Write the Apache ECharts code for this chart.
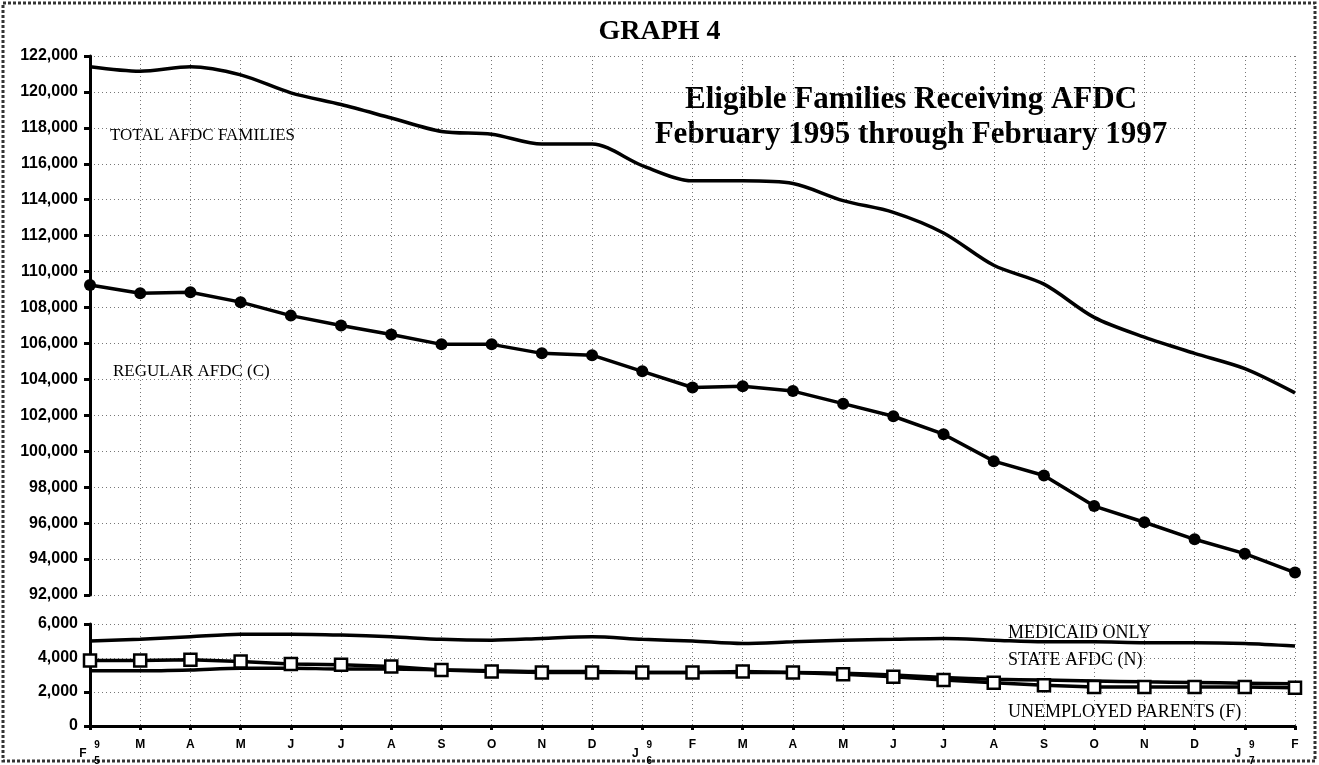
<!DOCTYPE html>
<html>
<head>
<meta charset="utf-8">
<script src="https://cdn.jsdelivr.net/npm/echarts@6/dist/echarts.min.js"></script>
<style>
  html, body { margin: 0; padding: 0; background: #fff; }
  #chart { width: 1319px; height: 765px; }
</style>
</head>
<body>
<div id="chart"></div>
<script>
// month initials, Feb 1995 .. Feb 1997
const months = ['F', 'M', 'A', 'M', 'J', 'J', 'A', 'S', 'O', 'N', 'D', 'J', 'F', 'M', 'A', 'M', 'J', 'J', 'A', 'S', 'O', 'N', 'D', 'J', 'F']
// year digits stacked beside the month letter
const yearMarks = [
  { index: 0, digits: ['9', '5'] },
  { index: 11, digits: ['9', '6'] },
  { index: 23, digits: ['9', '7'] },
]

const upperTicks = { min: 92000, max: 122000, interval: 2000 }
const lowerTicks = { min: 0, max: 6000, interval: 2000 }

const totalAfdc = [121400, 121150, 121400, 120950, 119950, 119300, 118550, 117800, 117650, 117100, 117100, 115900, 115050, 115050, 114900, 113950, 113300, 112150, 110350, 109300, 107450, 106350, 105450, 104600, 103250]
const regularAfdc = [109250, 108800, 108850, 108300, 107550, 107000, 106500, 105950, 105950, 105450, 105350, 104450, 103550, 103620, 103350, 102650, 101950, 100950, 99450, 98650, 96950, 96050, 95100, 94300, 93250]
const medicaidOnly = [5000, 5100, 5250, 5400, 5400, 5350, 5250, 5100, 5050, 5150, 5250, 5100, 5000, 4850, 4950, 5050, 5100, 5150, 5050, 4950, 4950, 4900, 4900, 4850, 4700]
const stateAfdc = [3250, 3250, 3300, 3400, 3400, 3350, 3350, 3300, 3250, 3200, 3200, 3150, 3150, 3150, 3150, 3100, 3000, 2850, 2750, 2700, 2650, 2600, 2560, 2520, 2480]
const unemployedParents = [3850, 3850, 3900, 3800, 3650, 3600, 3500, 3300, 3200, 3150, 3150, 3150, 3150, 3200, 3150, 3050, 2900, 2700, 2550, 2400, 2300, 2300, 2300, 2300, 2250]

const sans = '"Liberation Sans", Arial, sans-serif'
const serif = '"Liberation Serif", "Times New Roman", serif'
const gridDots = { color: '#777', width: 1, type: [1, 3] }
const yearIdx = yearMarks.map((m) => m.index)

const chart = echarts.init(document.getElementById('chart'))

const yAxisBase = {
  type: 'value',
  axisLine: { show: true, lineStyle: { color: '#000', width: 3 } },
  axisTick: { show: true, length: 6, lineStyle: { color: '#000', width: 3 } },
  axisLabel: {
    color: '#000',
    fontFamily: sans,
    fontWeight: 'bold',
    fontSize: 16,
    margin: 12,
    formatter: (v) => v.toLocaleString('en-US'),
  },
  splitLine: { show: true, lineStyle: gridDots },
}

// series line text labels
const textLabel = (text, x, y, size) => ({
  type: 'text',
  x,
  y,
  style: { text, fontFamily: serif, fontSize: size, fill: '#000', verticalAlign: 'middle' },
})

const option = {
  backgroundColor: '#fff',
  animation: false,
  title: {
    text: 'GRAPH 4',
    left: 'center',
    top: 13,
    textStyle: { fontFamily: serif, fontWeight: 'bold', fontSize: 28, color: '#000' },
  },
  grid: [
    { left: 90, right: 24, top: 56, height: 539 },
    { left: 90, right: 24, top: 624, height: 102 },
  ],
  xAxis: [
    {
      type: 'category',
      gridIndex: 0,
      data: months,
      boundaryGap: false,
      axisLine: { show: false },
      axisTick: { show: false },
      axisLabel: { show: false },
      splitLine: { show: true, lineStyle: gridDots },
    },
    {
      type: 'category',
      gridIndex: 1,
      data: months,
      boundaryGap: false,
      axisLine: { show: true, onZero: false, lineStyle: { color: '#000', width: 3 } },
      axisTick: { show: true, length: 4, alignWithLabel: true, lineStyle: { color: '#000', width: 3 } },
      axisLabel: {
        interval: 0,
        color: '#000',
        fontFamily: sans,
        fontWeight: 'bold',
        fontSize: 12,
        margin: 13,
        formatter: (v, i) => (yearIdx.includes(i) ? '' : v),
      },
      splitLine: { show: true, lineStyle: gridDots },
    },
  ],
  yAxis: [
    { ...yAxisBase, gridIndex: 0, ...upperTicks },
    { ...yAxisBase, gridIndex: 1, ...lowerTicks },
  ],
  series: [
    {
      name: 'TOTAL AFDC FAMILIES',
      type: 'line',
      xAxisIndex: 0,
      yAxisIndex: 0,
      data: totalAfdc,
      smooth: 0.3,
      showSymbol: false,
      lineStyle: { color: '#000', width: 3.5 },
    },
    {
      name: 'REGULAR AFDC (C)',
      type: 'line',
      xAxisIndex: 0,
      yAxisIndex: 0,
      data: regularAfdc,
      symbol: 'circle',
      symbolSize: 12,
      itemStyle: { color: '#000' },
      lineStyle: { color: '#000', width: 3.5 },
    },
    {
      name: 'MEDICAID ONLY',
      type: 'line',
      xAxisIndex: 1,
      yAxisIndex: 1,
      data: medicaidOnly,
      smooth: 0.3,
      showSymbol: false,
      lineStyle: { color: '#000', width: 3.5 },
    },
    {
      name: 'STATE AFDC (N)',
      type: 'line',
      xAxisIndex: 1,
      yAxisIndex: 1,
      data: stateAfdc,
      smooth: 0.3,
      showSymbol: false,
      lineStyle: { color: '#000', width: 3.5 },
    },
    {
      name: 'UNEMPLOYED PARENTS (F)',
      type: 'line',
      xAxisIndex: 1,
      yAxisIndex: 1,
      data: unemployedParents,
      symbol: 'rect',
      symbolSize: 12,
      itemStyle: { color: '#fff', borderColor: '#000', borderWidth: 2.5 },
      lineStyle: { color: '#000', width: 3.5 },
      z: 3,
    },
  ],
  graphic: [
    {
      type: 'rect',
      shape: { x: 3, y: 3, width: 1312, height: 758 },
      style: { fill: 'none', stroke: '#333', lineWidth: 3, lineDash: [3, 2] },
      silent: true,
    },
    {
      type: 'text',
      x: 911,
      y: 117,
      style: {
        text: 'Eligible Families Receiving AFDC\nFebruary 1995 through February 1997',
        fontFamily: serif,
        fontWeight: 'bold',
        fontSize: 31,
        lineHeight: 35,
        align: 'center',
        verticalAlign: 'middle',
        fill: '#000',
      },
    },
    textLabel('TOTAL AFDC FAMILIES', 110, 136, 17),
    textLabel('REGULAR AFDC (C)', 113, 372, 17),
    textLabel('MEDICAID ONLY', 1008, 633, 18),
    textLabel('STATE AFDC (N)', 1008, 660, 18),
    textLabel('UNEMPLOYED PARENTS (F)', 1008, 712, 18),
  ],
}

chart.setOption(option)

// stacked year digits next to F95 / J96 / J97
const yearGraphics = []
yearMarks.forEach((m) => {
  const x = chart.convertToPixel({ xAxisIndex: 1 }, m.index)
  const base = { fontFamily: sans, fontWeight: 'bold', fill: '#000', align: 'center', verticalAlign: 'middle' }
  yearGraphics.push({ type: 'text', x: x - 7, y: 754, style: { ...base, text: months[m.index], fontSize: 12 } })
  yearGraphics.push({ type: 'text', x: x + 7, y: 745, style: { ...base, text: m.digits[0], fontSize: 10 } })
  yearGraphics.push({ type: 'text', x: x + 7, y: 761, style: { ...base, text: m.digits[1], fontSize: 10 } })
})
chart.setOption({ graphic: option.graphic.concat(yearGraphics) })
</script>
</body>
</html>
